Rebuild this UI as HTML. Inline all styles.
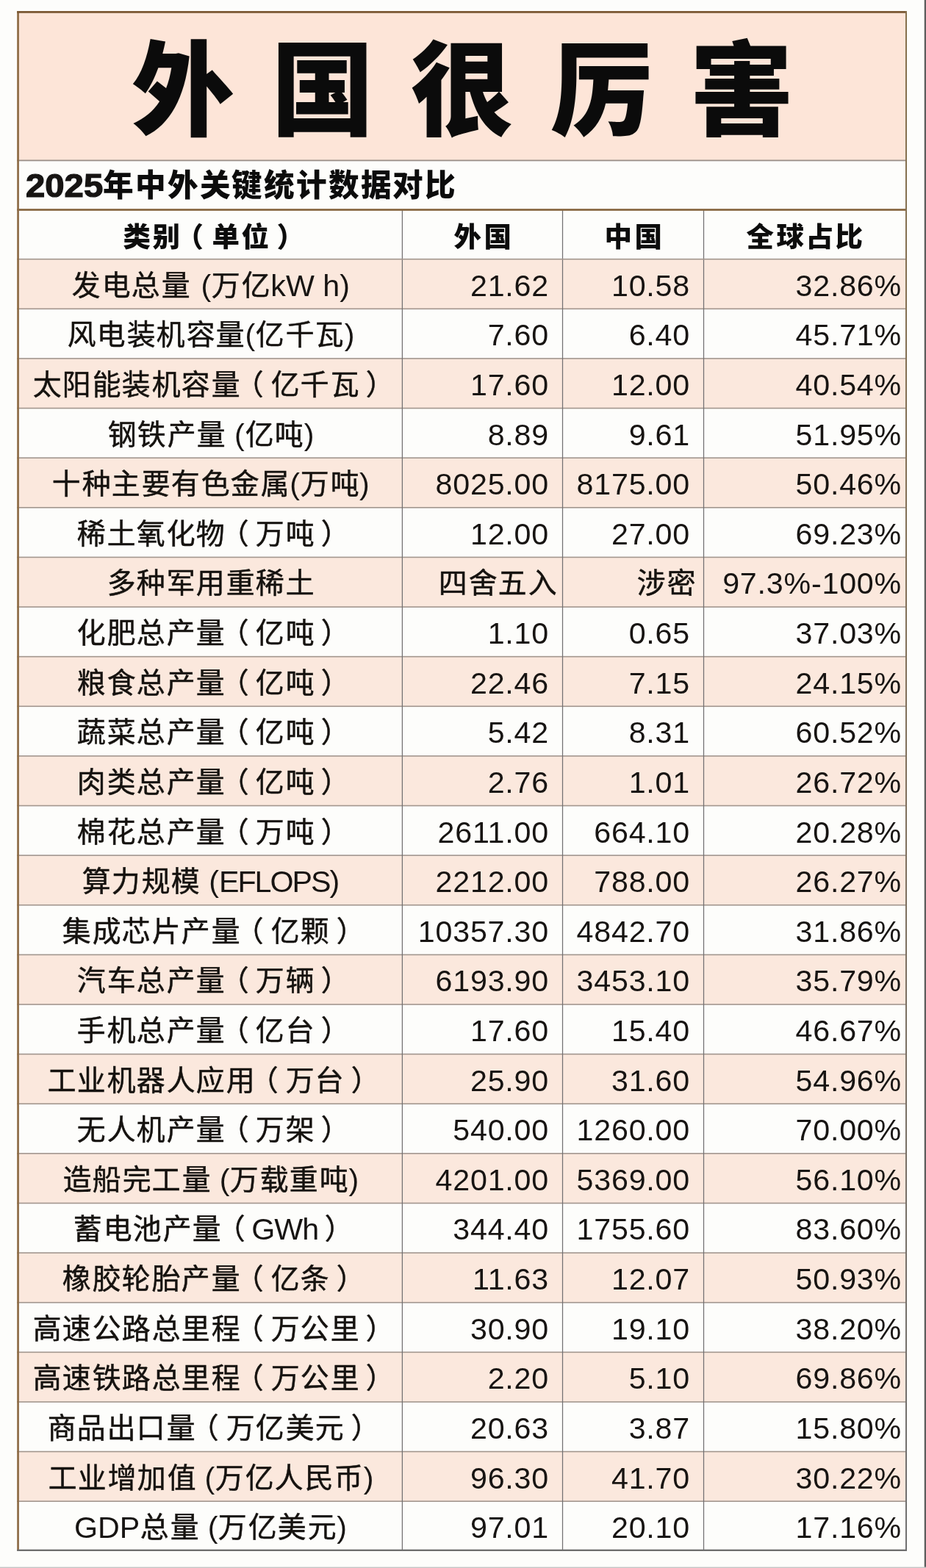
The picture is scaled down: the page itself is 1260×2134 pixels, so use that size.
<!DOCTYPE html>
<html lang="zh-CN">
<head>
<meta charset="utf-8">
<title>外国很厉害 - 2025年中外关键统计数据对比</title>
<style>
html,body{margin:0;padding:0}
body{width:1260px;height:2134px;position:relative;overflow:hidden;background:#fdfdfb;font-family:"Liberation Sans","Noto Sans CJK SC",sans-serif;color:#171412}
.grid{position:absolute;left:0;top:0;display:block}
.page{position:absolute;left:0;top:0;width:1260px;height:2134px}
.c{display:inline-block;position:relative;width:1em;height:1em;line-height:1em;color:#15120f;font-style:normal;vertical-align:baseline;text-align:left;letter-spacing:0;font-family:"Liberation Sans","Noto Sans CJK SC",sans-serif}
.pl{left:-0.2em}
.pr{left:0.2em}
.title{position:absolute;left:26px;top:25px;width:1206px;height:200px;margin:0;font-weight:900;font-size:140px;line-height:200px;text-align:center;white-space:nowrap}
.title .c{margin:0 25px;height:.975em;color:#0b0b0b}
.sub{position:absolute;left:26px;top:220px;width:1206px;height:66px;font-size:43.8px;line-height:66px;white-space:nowrap;font-weight:bold}
.sub .n{display:inline-block;width:97.4px;font-size:43.8px;margin-left:9px;margin-right:6.8px;transform:scaleX(1.08);transform-origin:0 50%;-webkit-text-stroke:1.2px #141414}
.sub .c{transform:scale(.95);font-weight:900;color:#0c0c0c}
.row{position:absolute;left:0;width:1260px;white-space:nowrap;font-size:41.2px}
.row .c{font-size:40.5px;transform:scale(.96);-webkit-text-stroke:.5px #15120f}
.row>div{position:absolute;top:3px;height:100%;line-height:67.6px;box-sizing:border-box}
.c1{left:26px;width:521px;text-align:center}
.c2{left:548px;width:217px;text-align:right;padding-right:18px;letter-spacing:.8px}
.c3{left:766px;width:191px;text-align:right;padding-right:18px;letter-spacing:.8px}
.c4{left:958px;width:274px;text-align:right;padding-right:5px;letter-spacing:.8px}
.head>div{text-align:center;padding:0;line-height:67px;top:4px;letter-spacing:0}
.head .c{font-size:40.3px;transform:scale(.93);-webkit-text-stroke:0;font-weight:900;color:#0c0c0c}
.c2.cj{padding-right:7px}
.c3.cj{padding-right:10px}
.grid,.page{filter:blur(.45px)}
.edge-r{position:absolute;right:0;top:0;width:2px;height:2134px;background:#5e5e5e;box-shadow:-1px 0 0 rgba(120,120,120,.35)}
.edge-b{position:absolute;left:0;bottom:0;width:1260px;height:1px;background:#c4c4c4;box-shadow:0 -1px 0 rgba(200,200,200,.4)}

</style>
</head>
<body>
<svg class="grid" width="1260" height="2134" viewBox="0 0 1260 2134">
<defs><linearGradient id="gr" x1="0" y1="0" x2="0" y2="1"><stop offset="0" stop-color="#86704c"/><stop offset="0.5" stop-color="#80705c"/><stop offset="1" stop-color="#707070"/></linearGradient></defs>
<rect x="0" y="0" width="1260" height="2134" fill="#fdfdfb"/>
<rect x="23.2" y="15" width="1210.8" height="2096" fill="#fdfdfb"/>
<rect x="23.2" y="15" width="1210.8" height="203.4" fill="#fde5d8"/>
<rect x="23.2" y="352.70" width="1210.8" height="67.62" fill="#fbe8dd"/>
<rect x="23.2" y="487.94" width="1210.8" height="67.62" fill="#fbe8dd"/>
<rect x="23.2" y="623.18" width="1210.8" height="67.62" fill="#fbe8dd"/>
<rect x="23.2" y="758.42" width="1210.8" height="67.62" fill="#fbe8dd"/>
<rect x="23.2" y="893.66" width="1210.8" height="67.62" fill="#fbe8dd"/>
<rect x="23.2" y="1028.90" width="1210.8" height="67.62" fill="#fbe8dd"/>
<rect x="23.2" y="1164.14" width="1210.8" height="67.62" fill="#fbe8dd"/>
<rect x="23.2" y="1299.38" width="1210.8" height="67.62" fill="#fbe8dd"/>
<rect x="23.2" y="1434.62" width="1210.8" height="67.62" fill="#fbe8dd"/>
<rect x="23.2" y="1569.86" width="1210.8" height="67.62" fill="#fbe8dd"/>
<rect x="23.2" y="1705.10" width="1210.8" height="67.62" fill="#fbe8dd"/>
<rect x="23.2" y="1840.34" width="1210.8" height="67.62" fill="#fbe8dd"/>
<rect x="23.2" y="1975.58" width="1210.8" height="67.62" fill="#fbe8dd"/>
<rect x="23.2" y="419.52" width="1210.8" height="1.6" fill="#a2968e"/>
<rect x="23.2" y="487.14" width="1210.8" height="1.6" fill="#a2968e"/>
<rect x="23.2" y="554.76" width="1210.8" height="1.6" fill="#a2968e"/>
<rect x="23.2" y="622.38" width="1210.8" height="1.6" fill="#a2968e"/>
<rect x="23.2" y="690.00" width="1210.8" height="1.6" fill="#a2968e"/>
<rect x="23.2" y="757.62" width="1210.8" height="1.6" fill="#a2968e"/>
<rect x="23.2" y="825.24" width="1210.8" height="1.6" fill="#a2968e"/>
<rect x="23.2" y="892.86" width="1210.8" height="1.6" fill="#a2968e"/>
<rect x="23.2" y="960.48" width="1210.8" height="1.6" fill="#a2968e"/>
<rect x="23.2" y="1028.10" width="1210.8" height="1.6" fill="#a2968e"/>
<rect x="23.2" y="1095.72" width="1210.8" height="1.6" fill="#a2968e"/>
<rect x="23.2" y="1163.34" width="1210.8" height="1.6" fill="#a2968e"/>
<rect x="23.2" y="1230.96" width="1210.8" height="1.6" fill="#a2968e"/>
<rect x="23.2" y="1298.58" width="1210.8" height="1.6" fill="#a2968e"/>
<rect x="23.2" y="1366.20" width="1210.8" height="1.6" fill="#a2968e"/>
<rect x="23.2" y="1433.82" width="1210.8" height="1.6" fill="#a2968e"/>
<rect x="23.2" y="1501.44" width="1210.8" height="1.6" fill="#a2968e"/>
<rect x="23.2" y="1569.06" width="1210.8" height="1.6" fill="#a2968e"/>
<rect x="23.2" y="1636.68" width="1210.8" height="1.6" fill="#a2968e"/>
<rect x="23.2" y="1704.30" width="1210.8" height="1.6" fill="#a2968e"/>
<rect x="23.2" y="1771.92" width="1210.8" height="1.6" fill="#a2968e"/>
<rect x="23.2" y="1839.54" width="1210.8" height="1.6" fill="#a2968e"/>
<rect x="23.2" y="1907.16" width="1210.8" height="1.6" fill="#a2968e"/>
<rect x="23.2" y="1974.78" width="1210.8" height="1.6" fill="#a2968e"/>
<rect x="23.2" y="2042.40" width="1210.8" height="1.6" fill="#a2968e"/>
<rect x="546.77" y="285.5" width="1.25" height="1825.50" fill="#727072"/>
<rect x="764.88" y="285.5" width="1.25" height="1825.50" fill="#727072"/>
<rect x="956.88" y="285.5" width="1.25" height="1825.50" fill="#727072"/>
<rect x="23.2" y="351.90" width="1210.8" height="1.6" fill="#a2968e"/>
<rect x="23.2" y="217.50" width="1210.8" height="1.8" fill="#9a8f88"/>
<rect x="23.2" y="284.15" width="1210.8" height="2.7" fill="#86653e"/>
<rect x="23.2" y="15" width="2.7" height="2096" fill="#8d6b45"/>
<rect x="23.2" y="15" width="1210.8" height="2.8" fill="#7b5934"/>
<rect x="1232" y="15" width="2" height="2096" fill="url(#gr)"/>
<rect x="23.2" y="2108.7" width="1210.8" height="2.3" fill="#6e6e6e"/>
</svg>
<main class="page">
<h1 class="title"><i class="c">外</i><i class="c">国</i><i class="c">很</i><i class="c">厉</i><i class="c">害</i></h1>
<div class="sub"><span class="n">2025</span><i class="c">年</i><i class="c">中</i><i class="c">外</i><i class="c">关</i><i class="c">键</i><i class="c">统</i><i class="c">计</i><i class="c">数</i><i class="c">据</i><i class="c">对</i><i class="c">比</i></div>
<div class="row head" style="top:285.50px;height:67.20px"><div class="hc c1"><i class="c">类</i><i class="c">别</i><i class="c pl">（</i><i class="c">单</i><i class="c">位</i><i class="c pr">）</i></div><div class="hc c2"><i class="c">外</i><i class="c">国</i></div><div class="hc c3"><i class="c">中</i><i class="c">国</i></div><div class="hc c4"><i class="c">全</i><i class="c">球</i><i class="c">占</i><i class="c">比</i></div></div>
<div class="row" style="top:352.70px;height:67.62px"><div class="c1"><i class="c">发</i><i class="c">电</i><i class="c">总</i><i class="c">量</i><span style="word-spacing:3px"> </span>(<i class="c">万</i><i class="c">亿</i>kW h)</div><div class="c2">21.62</div><div class="c3">10.58</div><div class="c4">32.86%</div></div>
<div class="row" style="top:420.32px;height:67.62px"><div class="c1"><i class="c">风</i><i class="c">电</i><i class="c">装</i><i class="c">机</i><i class="c">容</i><i class="c">量</i>(<i class="c">亿</i><i class="c">千</i><i class="c">瓦</i>)</div><div class="c2">7.60</div><div class="c3">6.40</div><div class="c4">45.71%</div></div>
<div class="row" style="top:487.94px;height:67.62px"><div class="c1"><i class="c">太</i><i class="c">阳</i><i class="c">能</i><i class="c">装</i><i class="c">机</i><i class="c">容</i><i class="c">量</i><i class="c pl">（</i><i class="c">亿</i><i class="c">千</i><i class="c">瓦</i><i class="c pr">）</i></div><div class="c2">17.60</div><div class="c3">12.00</div><div class="c4">40.54%</div></div>
<div class="row" style="top:555.56px;height:67.62px"><div class="c1"><i class="c">钢</i><i class="c">铁</i><i class="c">产</i><i class="c">量</i> (<i class="c">亿</i><i class="c">吨</i>)</div><div class="c2">8.89</div><div class="c3">9.61</div><div class="c4">51.95%</div></div>
<div class="row" style="top:623.18px;height:67.62px"><div class="c1"><i class="c">十</i><i class="c">种</i><i class="c">主</i><i class="c">要</i><i class="c">有</i><i class="c">色</i><i class="c">金</i><i class="c">属</i>(<i class="c">万</i><i class="c">吨</i>)</div><div class="c2">8025.00</div><div class="c3">8175.00</div><div class="c4">50.46%</div></div>
<div class="row" style="top:690.80px;height:67.62px"><div class="c1"><i class="c">稀</i><i class="c">土</i><i class="c">氧</i><i class="c">化</i><i class="c">物</i><i class="c pl">（</i><i class="c">万</i><i class="c">吨</i><i class="c pr">）</i></div><div class="c2">12.00</div><div class="c3">27.00</div><div class="c4">69.23%</div></div>
<div class="row" style="top:758.42px;height:67.62px"><div class="c1"><i class="c">多</i><i class="c">种</i><i class="c">军</i><i class="c">用</i><i class="c">重</i><i class="c">稀</i><i class="c">土</i></div><div class="c2 cj"><i class="c">四</i><i class="c">舍</i><i class="c">五</i><i class="c">入</i></div><div class="c3 cj"><i class="c">涉</i><i class="c">密</i></div><div class="c4">97.3%-100%</div></div>
<div class="row" style="top:826.04px;height:67.62px"><div class="c1"><i class="c">化</i><i class="c">肥</i><i class="c">总</i><i class="c">产</i><i class="c">量</i><i class="c pl">（</i><i class="c">亿</i><i class="c">吨</i><i class="c pr">）</i></div><div class="c2">1.10</div><div class="c3">0.65</div><div class="c4">37.03%</div></div>
<div class="row" style="top:893.66px;height:67.62px"><div class="c1"><i class="c">粮</i><i class="c">食</i><i class="c">总</i><i class="c">产</i><i class="c">量</i><i class="c pl">（</i><i class="c">亿</i><i class="c">吨</i><i class="c pr">）</i></div><div class="c2">22.46</div><div class="c3">7.15</div><div class="c4">24.15%</div></div>
<div class="row" style="top:961.28px;height:67.62px"><div class="c1"><i class="c">蔬</i><i class="c">菜</i><i class="c">总</i><i class="c">产</i><i class="c">量</i><i class="c pl">（</i><i class="c">亿</i><i class="c">吨</i><i class="c pr">）</i></div><div class="c2">5.42</div><div class="c3">8.31</div><div class="c4">60.52%</div></div>
<div class="row" style="top:1028.90px;height:67.62px"><div class="c1"><i class="c">肉</i><i class="c">类</i><i class="c">总</i><i class="c">产</i><i class="c">量</i><i class="c pl">（</i><i class="c">亿</i><i class="c">吨</i><i class="c pr">）</i></div><div class="c2">2.76</div><div class="c3">1.01</div><div class="c4">26.72%</div></div>
<div class="row" style="top:1096.52px;height:67.62px"><div class="c1"><i class="c">棉</i><i class="c">花</i><i class="c">总</i><i class="c">产</i><i class="c">量</i><i class="c pl">（</i><i class="c">万</i><i class="c">吨</i><i class="c pr">）</i></div><div class="c2">2611.00</div><div class="c3">664.10</div><div class="c4">20.28%</div></div>
<div class="row" style="top:1164.14px;height:67.62px"><div class="c1"><i class="c">算</i><i class="c">力</i><i class="c">规</i><i class="c">模</i> (<span style="letter-spacing:-2px">EFLOPS</span>)</div><div class="c2">2212.00</div><div class="c3">788.00</div><div class="c4">26.27%</div></div>
<div class="row" style="top:1231.76px;height:67.62px"><div class="c1"><i class="c">集</i><i class="c">成</i><i class="c">芯</i><i class="c">片</i><i class="c">产</i><i class="c">量</i><i class="c pl">（</i><i class="c">亿</i><i class="c">颗</i><i class="c pr">）</i></div><div class="c2">10357.30</div><div class="c3">4842.70</div><div class="c4">31.86%</div></div>
<div class="row" style="top:1299.38px;height:67.62px"><div class="c1"><i class="c">汽</i><i class="c">车</i><i class="c">总</i><i class="c">产</i><i class="c">量</i><i class="c pl">（</i><i class="c">万</i><i class="c">辆</i><i class="c pr">）</i></div><div class="c2">6193.90</div><div class="c3">3453.10</div><div class="c4">35.79%</div></div>
<div class="row" style="top:1367.00px;height:67.62px"><div class="c1"><i class="c">手</i><i class="c">机</i><i class="c">总</i><i class="c">产</i><i class="c">量</i><i class="c pl">（</i><i class="c">亿</i><i class="c">台</i><i class="c pr">）</i></div><div class="c2">17.60</div><div class="c3">15.40</div><div class="c4">46.67%</div></div>
<div class="row" style="top:1434.62px;height:67.62px"><div class="c1"><i class="c">工</i><i class="c">业</i><i class="c">机</i><i class="c">器</i><i class="c">人</i><i class="c">应</i><i class="c">用</i><i class="c pl">（</i><i class="c">万</i><i class="c">台</i><i class="c pr">）</i></div><div class="c2">25.90</div><div class="c3">31.60</div><div class="c4">54.96%</div></div>
<div class="row" style="top:1502.24px;height:67.62px"><div class="c1"><i class="c">无</i><i class="c">人</i><i class="c">机</i><i class="c">产</i><i class="c">量</i><i class="c pl">（</i><i class="c">万</i><i class="c">架</i><i class="c pr">）</i></div><div class="c2">540.00</div><div class="c3">1260.00</div><div class="c4">70.00%</div></div>
<div class="row" style="top:1569.86px;height:67.62px"><div class="c1"><i class="c">造</i><i class="c">船</i><i class="c">完</i><i class="c">工</i><i class="c">量</i> (<i class="c">万</i><i class="c">载</i><i class="c">重</i><i class="c">吨</i>)</div><div class="c2">4201.00</div><div class="c3">5369.00</div><div class="c4">56.10%</div></div>
<div class="row" style="top:1637.48px;height:67.62px"><div class="c1"><i class="c">蓄</i><i class="c">电</i><i class="c">池</i><i class="c">产</i><i class="c">量</i><i class="c pl">（</i><span style="letter-spacing:-1px">GWh</span><i class="c pr">）</i></div><div class="c2">344.40</div><div class="c3">1755.60</div><div class="c4">83.60%</div></div>
<div class="row" style="top:1705.10px;height:67.62px"><div class="c1"><i class="c">橡</i><i class="c">胶</i><i class="c">轮</i><i class="c">胎</i><i class="c">产</i><i class="c">量</i><i class="c pl">（</i><i class="c">亿</i><i class="c">条</i><i class="c pr">）</i></div><div class="c2">11.63</div><div class="c3">12.07</div><div class="c4">50.93%</div></div>
<div class="row" style="top:1772.72px;height:67.62px"><div class="c1"><i class="c">高</i><i class="c">速</i><i class="c">公</i><i class="c">路</i><i class="c">总</i><i class="c">里</i><i class="c">程</i><i class="c pl">（</i><i class="c">万</i><i class="c">公</i><i class="c">里</i><i class="c pr">）</i></div><div class="c2">30.90</div><div class="c3">19.10</div><div class="c4">38.20%</div></div>
<div class="row" style="top:1840.34px;height:67.62px"><div class="c1"><i class="c">高</i><i class="c">速</i><i class="c">铁</i><i class="c">路</i><i class="c">总</i><i class="c">里</i><i class="c">程</i><i class="c pl">（</i><i class="c">万</i><i class="c">公</i><i class="c">里</i><i class="c pr">）</i></div><div class="c2">2.20</div><div class="c3">5.10</div><div class="c4">69.86%</div></div>
<div class="row" style="top:1907.96px;height:67.62px"><div class="c1"><i class="c">商</i><i class="c">品</i><i class="c">出</i><i class="c">口</i><i class="c">量</i><i class="c pl">（</i><i class="c">万</i><i class="c">亿</i><i class="c">美</i><i class="c">元</i><i class="c pr">）</i></div><div class="c2">20.63</div><div class="c3">3.87</div><div class="c4">15.80%</div></div>
<div class="row" style="top:1975.58px;height:67.62px"><div class="c1"><i class="c">工</i><i class="c">业</i><i class="c">增</i><i class="c">加</i><i class="c">值</i> (<i class="c">万</i><i class="c">亿</i><i class="c">人</i><i class="c">民</i><i class="c">币</i>)</div><div class="c2">96.30</div><div class="c3">41.70</div><div class="c4">30.22%</div></div>
<div class="row" style="top:2043.20px;height:67.62px"><div class="c1">GDP<i class="c">总</i><i class="c">量</i> (<i class="c">万</i><i class="c">亿</i><i class="c">美</i><i class="c">元</i>)</div><div class="c2">97.01</div><div class="c3">20.10</div><div class="c4">17.16%</div></div>
</main>
<div class="edge-r"></div><div class="edge-b"></div>
</body>
</html>
